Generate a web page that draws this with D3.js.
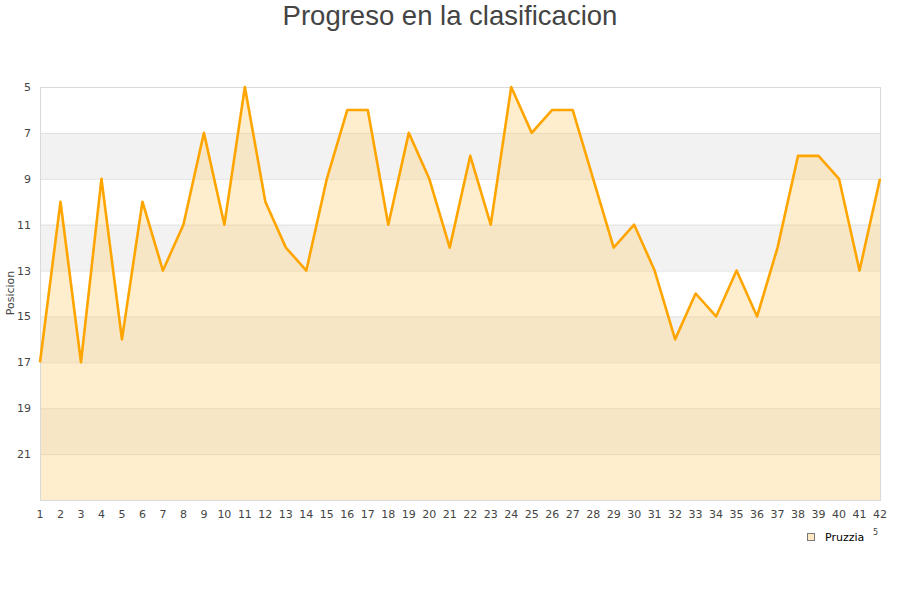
<!DOCTYPE html>
<html>
<head>
<meta charset="utf-8">
<script src="https://cdn.jsdelivr.net/npm/d3@7"></script>
<style>
body { margin: 0; background: #fff; }
</style>
</head>
<body>
<div id="grafico"></div>
<script>
// datos
var jornadas = d3.range(1, 43);
var posiciones = [17, 10, 17, 9, 16, 10, 13, 11, 7, 11, 5, 10, 12, 13, 9, 6, 6, 11, 7, 9,
                  12, 8, 11, 5, 7, 6, 6, 9, 12, 11, 13, 16, 14, 15, 13, 15, 12, 8, 8, 9, 13, 9];
var ticksY = [5, 7, 9, 11, 13, 15, 17, 19, 21];
var bandas = [[7, 9], [11, 13], [15, 17], [19, 21]];
var equipo = "Pruzzia";

var svg = d3.select("#grafico")
    .append("svg")
    .attr("width", 900)
    .attr("height", 600);

var izq = 40, der = 880, arriba = 87, abajo = 500;

var x = d3.scaleLinear().domain([1, 42]).range([izq, der]);
var y = d3.scaleLinear().domain([5, 23]).range([arriba, abajo]);

// titulo
svg.append("text")
    .attr("x", 450)
    .attr("y", 25)
    .attr("text-anchor", "middle")
    .attr("font-family", "Liberation Sans, Arial, sans-serif")
    .attr("font-size", 27.5)
    .attr("fill", "#444")
    .text("Progreso en la clasificacion");

// bandas grises
svg.selectAll(".banda")
    .data(bandas)
    .enter()
    .append("rect")
    .attr("x", izq)
    .attr("y", function (d) { return y(d[0]); })
    .attr("width", der - izq)
    .attr("height", function (d) { return y(d[1]) - y(d[0]); })
    .attr("fill", "#f2f2f2");

// lineas de la rejilla
svg.selectAll(".rejilla")
    .data(ticksY)
    .enter()
    .append("line")
    .attr("x1", izq)
    .attr("x2", der)
    .attr("y1", function (d) { return y(d) + 0.5; })
    .attr("y2", function (d) { return y(d) + 0.5; })
    .attr("stroke", "#e0e0e0")
    .attr("stroke-width", 1);

// area
var area = d3.area()
    .x(function (d, i) { return x(jornadas[i]); })
    .y0(y(23))
    .y1(function (d) { return y(d); });

svg.append("path")
    .datum(posiciones)
    .attr("d", area)
    .attr("fill", "#ffd27f")
    .attr("fill-opacity", 0.38);

// marco
svg.append("rect")
    .attr("x", izq + 0.5)
    .attr("y", arriba + 0.5)
    .attr("width", der - izq)
    .attr("height", abajo - arriba)
    .attr("fill", "none")
    .attr("stroke", "#dadada")
    .attr("stroke-width", 1);

// linea
var linea = d3.line()
    .x(function (d, i) { return x(jornadas[i]); })
    .y(function (d) { return y(d); });

svg.append("path")
    .datum(posiciones)
    .attr("d", linea)
    .attr("fill", "none")
    .attr("stroke", "#ffa500")
    .attr("stroke-width", 2.6)
    .attr("stroke-linejoin", "round");

// etiquetas eje y
svg.selectAll(".etiy")
    .data(ticksY)
    .enter()
    .append("text")
    .attr("x", 31)
    .attr("y", function (d) { return y(d) + 4; })
    .attr("text-anchor", "end")
    .attr("font-family", "DejaVu Sans, sans-serif")
    .attr("font-size", 11)
    .attr("fill", "#444")
    .text(function (d) { return d; });

// etiquetas eje x
svg.selectAll(".etix")
    .data(jornadas)
    .enter()
    .append("text")
    .attr("x", function (d) { return x(d); })
    .attr("y", 518)
    .attr("text-anchor", "middle")
    .attr("font-family", "DejaVu Sans, sans-serif")
    .attr("font-size", 11)
    .attr("fill", "#444")
    .text(function (d) { return d; });

// titulo eje y
svg.append("text")
    .attr("transform", "translate(14,293) rotate(-90)")
    .attr("text-anchor", "middle")
    .attr("font-family", "DejaVu Sans, sans-serif")
    .attr("font-size", 11)
    .attr("fill", "#444")
    .text("Posicion");

// resto recortado del titulo del eje x
svg.append("text")
    .attr("x", 873)
    .attr("y", 535)
    .attr("font-family", "DejaVu Sans, sans-serif")
    .attr("font-size", 8)
    .attr("fill", "#444")
    .text("5");

// leyenda
svg.append("rect")
    .attr("x", 807.5)
    .attr("y", 533.5)
    .attr("width", 7)
    .attr("height", 7)
    .attr("fill", "#ffe9c4")
    .attr("stroke", "#777")
    .attr("stroke-width", 1);

svg.append("text")
    .attr("x", 825)
    .attr("y", 541)
    .attr("font-family", "DejaVu Sans, sans-serif")
    .attr("font-size", 11)
    .attr("fill", "#000")
    .text(equipo);
</script>
</body>
</html>
